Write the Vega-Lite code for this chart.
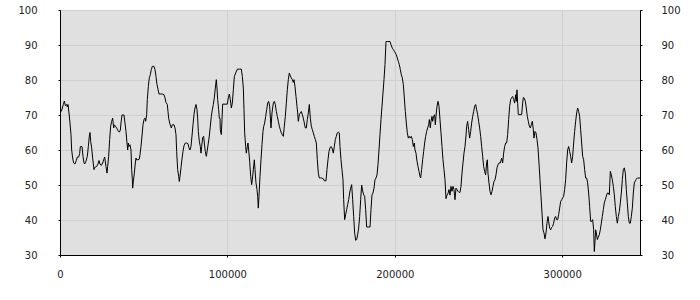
{
  "$schema": "https://vega.github.io/schema/vega-lite/v6.json",
  "width": 580,
  "height": 245,
  "autosize": "none",
  "padding": {"left": 60, "top": 10, "right": 60, "bottom": 45},
  "background": "white",
  "config": {
    "view": {"fill": "#e0e0e0", "stroke": "#000000", "strokeWidth": 1},
    "axis": {
      "labelFont": "DejaVu Sans", "labelFontSize": 10, "labelColor": "#222222",
      "domainColor": "#000000", "tickColor": "#000000", "tickSize": 2,
      "gridColor": "#cfcfcf", "gridOpacity": 1, "title": null
    }
  },
  "data": {"values": [
    {"x":796,"y":71.0},{"x":1991,"y":73},{"x":2588,"y":74},{"x":3186,"y":72.7},{"x":3982,"y":73},{"x":4380,"y":72.3},{"x":4779,"y":73},{"x":5376,"y":70.6},{"x":5973,"y":67.7},{"x":6571,"y":64.4},{"x":6969,"y":60},{"x":7566,"y":57.7},{"x":8164,"y":56.3},{"x":8960,"y":56},{"x":9757,"y":57},{"x":10354,"y":58},{"x":11151,"y":58},{"x":11748,"y":59},{"x":12146,"y":61},{"x":13142,"y":61},{"x":13739,"y":58.2},{"x":14337,"y":56.3},{"x":14735,"y":56},{"x":15532,"y":56.8},{"x":16328,"y":58.2},{"x":16925,"y":61},{"x":17523,"y":64},{"x":17921,"y":65},{"x":18319,"y":62.5},{"x":18917,"y":60.6},{"x":19514,"y":57.7},{"x":20311,"y":54.4},{"x":20709,"y":55},{"x":21904,"y":55.3},{"x":22700,"y":56},{"x":23298,"y":57},{"x":23895,"y":56},{"x":24692,"y":55.6},{"x":25488,"y":56.3},{"x":26085,"y":57.2},{"x":26683,"y":58},{"x":27479,"y":55.3},{"x":28077,"y":53.4},{"x":28475,"y":55.3},{"x":29073,"y":58.2},{"x":29670,"y":63},{"x":30267,"y":66.8},{"x":30865,"y":68.2},{"x":31462,"y":69.1},{"x":32060,"y":66.3},{"x":32458,"y":67.2},{"x":33055,"y":66.8},{"x":33852,"y":66.3},{"x":34648,"y":65.5},{"x":35445,"y":65.1},{"x":36042,"y":65.7},{"x":36440,"y":67.7},{"x":37038,"y":70},{"x":38233,"y":70},{"x":38830,"y":67.7},{"x":39427,"y":65.3},{"x":40025,"y":62},{"x":40423,"y":60},{"x":40821,"y":62},{"x":41219,"y":61},{"x":41817,"y":61.5},{"x":42414,"y":60},{"x":42812,"y":54.4},{"x":43211,"y":51.5},{"x":43410,"y":49.1},{"x":43808,"y":51},{"x":44405,"y":53.4},{"x":45003,"y":56.3},{"x":45401,"y":57.7},{"x":45799,"y":57.2},{"x":46596,"y":57.2},{"x":47392,"y":57.4},{"x":47791,"y":58.7},{"x":48388,"y":61},{"x":48985,"y":64},{"x":49583,"y":67.2},{"x":50180,"y":68.7},{"x":50778,"y":69.1},{"x":51176,"y":68.2},{"x":51773,"y":70.1},{"x":52171,"y":74.4},{"x":52769,"y":78.2},{"x":53366,"y":80.6},{"x":53963,"y":81.5},{"x":54561,"y":83},{"x":55158,"y":83.9},{"x":56154,"y":83.9},{"x":56751,"y":83},{"x":57349,"y":81},{"x":57946,"y":78.7},{"x":58544,"y":77.4},{"x":59141,"y":76},{"x":60137,"y":76},{"x":61132,"y":76},{"x":62128,"y":75.8},{"x":62725,"y":74.9},{"x":63323,"y":73.6},{"x":64119,"y":73},{"x":64517,"y":71},{"x":64916,"y":69.1},{"x":65513,"y":67.7},{"x":66110,"y":66.8},{"x":66509,"y":66.3},{"x":67106,"y":67.2},{"x":68102,"y":67.2},{"x":68699,"y":66.3},{"x":69297,"y":64.4},{"x":69695,"y":59.6},{"x":70292,"y":54.4},{"x":70890,"y":52.5},{"x":71288,"y":51},{"x":71686,"y":52.5},{"x":72284,"y":54.9},{"x":72881,"y":57.4},{"x":73478,"y":59.6},{"x":74076,"y":61.2},{"x":74872,"y":62},{"x":75669,"y":62},{"x":76465,"y":61.8},{"x":77063,"y":60.6},{"x":77660,"y":60},{"x":78257,"y":61},{"x":78855,"y":64},{"x":79452,"y":67.2},{"x":80050,"y":70.1},{"x":80647,"y":72},{"x":81244,"y":73},{"x":81842,"y":71.5},{"x":82240,"y":69.1},{"x":82638,"y":65.3},{"x":83236,"y":62.5},{"x":83833,"y":61},{"x":84231,"y":59.1},{"x":84630,"y":61},{"x":85227,"y":63.6},{"x":85824,"y":63.9},{"x":86223,"y":62},{"x":86820,"y":59.6},{"x":87417,"y":58.2},{"x":88015,"y":60},{"x":88612,"y":62},{"x":89210,"y":64},{"x":89807,"y":66.8},{"x":90404,"y":69.6},{"x":91002,"y":71.5},{"x":91599,"y":73},{"x":92197,"y":74.9},{"x":92794,"y":77.7},{"x":93391,"y":80.1},{"x":93790,"y":77.7},{"x":94188,"y":74.4},{"x":94785,"y":71.5},{"x":95184,"y":69.1},{"x":95582,"y":69.1},{"x":95781,"y":65.8},{"x":96378,"y":64.4},{"x":96777,"y":68.7},
    {"x":97177,"y":73.1},{"x":99965,"y":73.1},{"x":100562,"y":74.9},{"x":101160,"y":76},{"x":101757,"y":74.4},{"x":102354,"y":72},{"x":102952,"y":73.4},{"x":103549,"y":77.2},{"x":104147,"y":81},{"x":104943,"y":82},{"x":105939,"y":83.1},{"x":107134,"y":83.1},{"x":108328,"y":83.1},{"x":108926,"y":81},{"x":109523,"y":77.7},{"x":109921,"y":71.5},{"x":110320,"y":64.9},{"x":110917,"y":61},{"x":111315,"y":59.1},{"x":111913,"y":61},{"x":112311,"y":62},{"x":112709,"y":60},{"x":113307,"y":56.8},{"x":113904,"y":52.5},{"x":114501,"y":50.1},{"x":114900,"y":51.5},{"x":115497,"y":54.4},{"x":116094,"y":57.2},{"x":116493,"y":54.4},{"x":117090,"y":50.6},{"x":117688,"y":48.7},{"x":118086,"y":46.8},{"x":118484,"y":43.4},{"x":118882,"y":46.8},{"x":119480,"y":52.5},{"x":120077,"y":57.2},{"x":120674,"y":61.5},{"x":121272,"y":65.3},{"x":121670,"y":66.7},{"x":122267,"y":67.7},{"x":122865,"y":69.6},{"x":123462,"y":71.5},{"x":124060,"y":73.4},{"x":124657,"y":73.9},{"x":125254,"y":72.5},{"x":126051,"y":66.3},{"x":126648,"y":70.6},{"x":127445,"y":73.4},{"x":128042,"y":73.9},{"x":128640,"y":73},{"x":129237,"y":71},{"x":129834,"y":69.6},{"x":130432,"y":68.2},{"x":131029,"y":66.8},{"x":131627,"y":65.8},{"x":132224,"y":64.9},{"x":132821,"y":64.4},{"x":133419,"y":63.9},{"x":134016,"y":66.8},{"x":134613,"y":69.6},{"x":135211,"y":73.4},{"x":135808,"y":77.2},{"x":136406,"y":80.1},{"x":137003,"y":82},{"x":137600,"y":81.2},{"x":138198,"y":80.6},{"x":138795,"y":80.1},{"x":139393,"y":79.3},{"x":139791,"y":80.1},{"x":140388,"y":78.2},{"x":140986,"y":75.3},{"x":141583,"y":72.5},{"x":141981,"y":70.6},{"x":142380,"y":68.2},{"x":142977,"y":70.1},{"x":143575,"y":70.6},{"x":144172,"y":71},{"x":144769,"y":70.1},{"x":145367,"y":69.1},{"x":145964,"y":67.7},{"x":146561,"y":66.3},{"x":147159,"y":66.3},{"x":147756,"y":68.7},{"x":148354,"y":70.6},{"x":148951,"y":73},{"x":149548,"y":69.1},{"x":150146,"y":66.8},{"x":150743,"y":65.8},{"x":151340,"y":64.9},{"x":151938,"y":63.9},{"x":152535,"y":63},{"x":153133,"y":62},{"x":153730,"y":57.2},{"x":154327,"y":53.4},{"x":154925,"y":52},{"x":155522,"y":52},{"x":156319,"y":52},{"x":157314,"y":51.8},{"x":157912,"y":51.2},{"x":158907,"y":51.2},{"x":159505,"y":54.4},{"x":160102,"y":57.2},{"x":160700,"y":59.6},{"x":161297,"y":60.6},{"x":161894,"y":61},{"x":162492,"y":60.6},{"x":163288,"y":59.1},{"x":163886,"y":61},{"x":164483,"y":63},{"x":165080,"y":63.9},{"x":165678,"y":64.9},{"x":166275,"y":65.1},{"x":166873,"y":64.9},{"x":167271,"y":61},{"x":167868,"y":57.2},{"x":168466,"y":54.4},{"x":169063,"y":51.5},{"x":169461,"y":45.8},{"x":170059,"y":40.1},{"x":170656,"y":41.5},{"x":171253,"y":43},{"x":171851,"y":44.4},{"x":172448,"y":45.8},{"x":173046,"y":47.7},{"x":173643,"y":49.1},{"x":174240,"y":50.1},{"x":174838,"y":45.8},{"x":175435,"y":41},{"x":176033,"y":36.3},{"x":176630,"y":34.2},{"x":177227,"y":34.4},{"x":177825,"y":35.8},{"x":178422,"y":37.7},{"x":179019,"y":41},{"x":179617,"y":45.8},{"x":180214,"y":50},{"x":180812,"y":48.3},{"x":181409,"y":47.2},{"x":182006,"y":46.8},{"x":182604,"y":43},{"x":183201,"y":38},{"x":184197,"y":38},{"x":185193,"y":38},{"x":185790,"y":43},{"x":186387,"y":47.2},{"x":186985,"y":47.7},{"x":187582,"y":49.1},{"x":188180,"y":51.5},{"x":188777,"y":52},{"x":189374,"y":52.9},{"x":189972,"y":55.8},{"x":190569,"y":60},{"x":191166,"y":64.4},{"x":191764,"y":68.7},{"x":192361,"y":72.5},{"x":192959,"y":76.3},{"x":193556,"y":80.1},{"x":194153,"y":84.4},{"x":194751,"y":91},{"x":195746,"y":91},{"x":197140,"y":91},{"x":197738,"y":90.1},{"x":198534,"y":89.1},{"x":199132,"y":88.7},{"x":199729,"y":88.2},{"x":200326,"y":87.7},{"x":200924,"y":87.2},{"x":201521,"y":86.3},{"x":202119,"y":85.3},{"x":202716,"y":84.4},{"x":203313,"y":83},{"x":203911,"y":81.5},{"x":204508,"y":80.6},{"x":205106,"y":78.7},{"x":205703,"y":74.9},{"x":206300,"y":71},{"x":206898,"y":67.7},{"x":207495,"y":64.9},{"x":208092,"y":63.4},{"x":208690,"y":63.9},{"x":209287,"y":63.4},{"x":209885,"y":63.9},{"x":210482,"y":63},{"x":211079,"y":61},{"x":211677,"y":62},{"x":212075,"y":60},{"x":212672,"y":59.1},{"x":213270,"y":56.8},{"x":213867,"y":55.3},{"x":214465,"y":53.9},{"x":215062,"y":52.5},{"x":215460,"y":52},{"x":216058,"y":54.4},{"x":216655,"y":57.2},{"x":217252,"y":59.6},{"x":217850,"y":62},{"x":218447,"y":63.9},{"x":219045,"y":65.3},{"x":219642,"y":66.3},{"x":220239,"y":67.2},{"x":220638,"y":68.7},{"x":221235,"y":66.3},{"x":221633,"y":68.2},{"x":222231,"y":69.6},{"x":222629,"y":68.2},{"x":223227,"y":69.6},{"x":223824,"y":70.1},{"x":224222,"y":67.2},{"x":224620,"y":69.6},{"x":225218,"y":72.5},{"x":225815,"y":73.9},{"x":226413,"y":72.5},{"x":227010,"y":68.7},{"x":227608,"y":64.9},{"x":228205,"y":61},{"x":228802,"y":57.2},{"x":229400,"y":54.4},{"x":229997,"y":51.5},{"x":230594,"y":46.1},{"x":231192,"y":47.1},{"x":231789,"y":47.6},{"x":232387,"y":48.7},{"x":232984,"y":47.1},{"x":233581,"y":49.6},{"x":234179,"y":48.2},{"x":234776,"y":49.6},{"x":235374,"y":48.7},{"x":235971,"y":45.8},{"x":236568,"y":49.1},{"x":237166,"y":48.7},{"x":237763,"y":48.2},{"x":238360,"y":47.9},{"x":238958,"y":47.9},
    {"x":239557,"y":49.6},{"x":240155,"y":53.4},{"x":240752,"y":56.3},{"x":241349,"y":59.1},{"x":241947,"y":61},{"x":242544,"y":64},{"x":242942,"y":66.8},{"x":243540,"y":68.2},{"x":244137,"y":65.8},{"x":244735,"y":63.4},{"x":245332,"y":65.3},{"x":245929,"y":67.7},{"x":246527,"y":69.6},{"x":247124,"y":71},{"x":247722,"y":72.5},{"x":248319,"y":73},{"x":248916,"y":71.5},{"x":249514,"y":70.1},{"x":250111,"y":68.2},{"x":250708,"y":66.3},{"x":251306,"y":63.9},{"x":251903,"y":61},{"x":252501,"y":58.2},{"x":253098,"y":55.3},{"x":253695,"y":53.9},{"x":254293,"y":52.9},{"x":254890,"y":56.3},{"x":255288,"y":57.2},{"x":255687,"y":53.4},{"x":256284,"y":50.6},{"x":256882,"y":48.2},{"x":257479,"y":47.2},{"x":258076,"y":48.2},{"x":258674,"y":49.6},{"x":259271,"y":51},{"x":259868,"y":51.5},{"x":260466,"y":52.9},{"x":261063,"y":54.9},{"x":261661,"y":55.8},{"x":262258,"y":56.3},{"x":263055,"y":56.3},{"x":263851,"y":57.7},{"x":264448,"y":56.3},{"x":265046,"y":59.1},{"x":265643,"y":61},{"x":266241,"y":62},{"x":266838,"y":62},{"x":267435,"y":64.4},{"x":268033,"y":68.7},{"x":268630,"y":72.5},{"x":269228,"y":74.4},{"x":269825,"y":75},{"x":270422,"y":75.3},{"x":271020,"y":74.4},{"x":271617,"y":73.4},{"x":272214,"y":75.8},{"x":272613,"y":73.9},{"x":273011,"y":77.2},{"x":273409,"y":73.4},{"x":273808,"y":70.1},{"x":274803,"y":70.1},{"x":275799,"y":70.1},{"x":276396,"y":73.4},{"x":276795,"y":75},{"x":277392,"y":74.8},{"x":277989,"y":73.9},{"x":278587,"y":72},{"x":279184,"y":69.6},{"x":279781,"y":68.2},{"x":280379,"y":66.8},{"x":280976,"y":66.3},{"x":281574,"y":67.2},{"x":282171,"y":68.2},{"x":282768,"y":65.8},{"x":283167,"y":63.4},{"x":283764,"y":65.3},{"x":284361,"y":64.9},{"x":284959,"y":63},{"x":285556,"y":60.6},{"x":286154,"y":56.3},{"x":286751,"y":51.5},{"x":287348,"y":46.8},{"x":287946,"y":42},{"x":288543,"y":37.2},{"x":289140,"y":36.3},{"x":289738,"y":34.6},{"x":290335,"y":36.3},{"x":290933,"y":39.1},{"x":291530,"y":41},{"x":291928,"y":39.6},{"x":292526,"y":37.7},{"x":293123,"y":37.2},{"x":293721,"y":37.9},{"x":294318,"y":38.2},{"x":294915,"y":39.1},{"x":295513,"y":40.6},{"x":296110,"y":41},{"x":296708,"y":40.1},{"x":297305,"y":40.1},{"x":297902,"y":41.5},{"x":298500,"y":43.4},{"x":299097,"y":45.3},{"x":299694,"y":45.8},{"x":300292,"y":46.3},{"x":300889,"y":46.8},{"x":301487,"y":48.7},{"x":302084,"y":51.5},{"x":302681,"y":56.3},{"x":303279,"y":60},{"x":303876,"y":61},{"x":304474,"y":59.6},{"x":305071,"y":58.2},{"x":305668,"y":56.3},{"x":306266,"y":58.2},{"x":306863,"y":62},{"x":307461,"y":65.3},{"x":308058,"y":68.2},{"x":308655,"y":70.6},{"x":309253,"y":72},{"x":309850,"y":71},{"x":310447,"y":69.6},{"x":311045,"y":65.8},{"x":311642,"y":62},{"x":312240,"y":58.2},{"x":312837,"y":57.2},{"x":313434,"y":54.4},{"x":314032,"y":52},{"x":314629,"y":52},{"x":315227,"y":50.6},{"x":315824,"y":47.7},{"x":316421,"y":43.8},{"x":317019,"y":39.6},{"x":317616,"y":39.6},{"x":318214,"y":40.1},{"x":318811,"y":37.2},{"x":319209,"y":31},{"x":319608,"y":33.9},{"x":320006,"y":37.2},{"x":320404,"y":36.3},{"x":321001,"y":34.4},{"x":321599,"y":35.1},{"x":322196,"y":35.8},{"x":322794,"y":37.2},{"x":323391,"y":39.1},{"x":323988,"y":41},{"x":324586,"y":43},{"x":325183,"y":44.9},{"x":325781,"y":45.8},{"x":326378,"y":46.8},{"x":326975,"y":47.7},{"x":327573,"y":47.7},{"x":328170,"y":47.2},{"x":328767,"y":53.9},{"x":329365,"y":52.9},{"x":329962,"y":51.5},{"x":330560,"y":49.6},{"x":331157,"y":47.2},{"x":331754,"y":43.8},{"x":332352,"y":41},{"x":332949,"y":39.1},{"x":333547,"y":41},{"x":334144,"y":42.4},{"x":334741,"y":44.9},{"x":335339,"y":47.7},{"x":335936,"y":51.5},{"x":336534,"y":54.4},{"x":337131,"y":54.9},{"x":337728,"y":53.4},{"x":338326,"y":48.7},{"x":338923,"y":44.9},{"x":339521,"y":41},{"x":340118,"y":39.1},{"x":340715,"y":39.1},{"x":341313,"y":41},{"x":341910,"y":43.4},{"x":342508,"y":47.7},{"x":343105,"y":50.6},{"x":343702,"y":51.2},{"x":344300,"y":51.7},{"x":344897,"y":52},{"x":345893,"y":52},{"x":346490,"y":52}
  ]},
  "layer": [
    {
      "mark": {"type": "line", "color": "#000000", "strokeWidth": 1, "clip": true},
      "encoding": {
        "x": {"field": "x", "type": "quantitative",
              "scale": {"domain": [0, 346500], "nice": false, "zero": false},
              "axis": {"values": [0, 100000, 200000, 300000], "format": "d", "labelPadding": 12, "labelFlush": false}},
        "y": {"field": "y", "type": "quantitative",
              "scale": {"domain": [30, 100], "nice": false, "zero": false},
              "axis": {"orient": "left", "values": [30, 40, 50, 60, 70, 80, 90, 100], "labelPadding": 21, "labelAlign": "right"}}
      }
    },
    {
      "mark": {"type": "line", "color": "#000000", "strokeWidth": 1, "strokeOpacity": 0},
      "encoding": {
        "x": {"field": "x", "type": "quantitative"},
        "y": {"field": "y", "type": "quantitative",
              "axis": {"orient": "right", "grid": false, "values": [30, 40, 50, 60, 70, 80, 90, 100], "labelPadding": 19, "labelAlign": "left"}}
      }
    }
  ],
  "resolve": {"axis": {"y": "independent"}}
}
